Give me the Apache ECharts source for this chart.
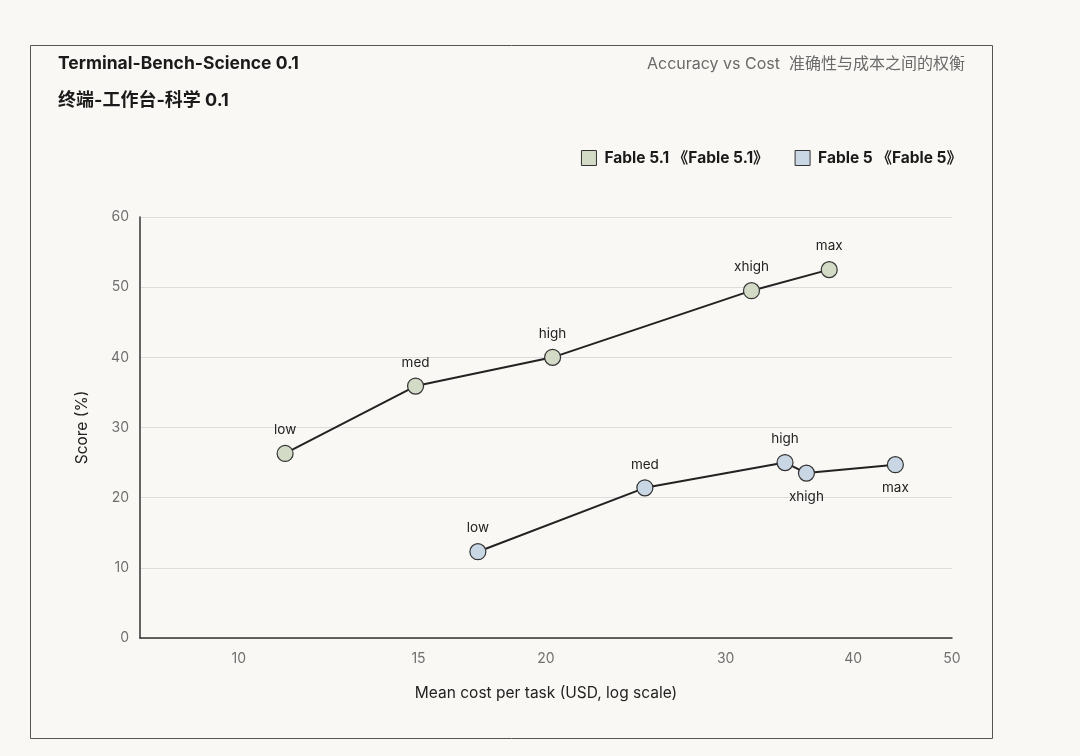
<!DOCTYPE html>
<html>
<head>
<meta charset="utf-8">
<script src="https://cdn.jsdelivr.net/npm/echarts@6/dist/echarts.min.js"></script>
<style>
  html, body { margin: 0; padding: 0; background: #f9f8f5; }
  #chart { width: 1080px; height: 756px; }
</style>
</head>
<body>
<div id="chart"></div>
<script>
var levels = ['low', 'med', 'high', 'xhigh', 'max'];

var fable51Cost = [11.1, 14.9, 20.3, 31.8, 37.9];
var fable51Score = [26.3, 35.9, 40.0, 49.5, 52.5];

var fable5Cost = [17.15, 25.0, 34.3, 36.0, 44.0];
var fable5Score = [12.3, 21.4, 25.0, 23.5, 24.7];
var fable5LabelPos = ['top', 'top', 'top', 'bottom', 'bottom'];

var xTicks = [10, 15, 20, 30, 40, 50];

var font = 'Inter, "Noto Sans CJK SC", sans-serif';

var buildData = function (costs, scores, positions) {
    var res = [];
    for (var i = 0; i < costs.length; i++) {
        var item = { name: levels[i], value: [costs[i], scores[i]] };
        if (positions) item.label = { position: positions[i] };
        res.push(item);
    }
    return res;
};

var chart = echarts.init(document.getElementById('chart'));

var seriesStyle = function (name, color, data) {
    return {
        name: name,
        type: 'line',
        data: data,
        symbol: 'circle',
        symbolSize: 16,
        lineStyle: { color: '#222222', width: 2 },
        itemStyle: { color: color, borderColor: '#333333', borderWidth: 1.2 },
        label: {
            show: true,
            position: 'top',
            distance: 8,
            formatter: '{b}',
            color: '#222222',
            fontSize: 13.5,
            fontFamily: font
        },
        emphasis: { disabled: true },
        z: 3
    };
};

var option = {
    backgroundColor: '#f9f8f5',
    animation: false,
    graphic: [{
        type: 'rect',
        shape: { x: 30.5, y: 45.5, width: 962, height: 693 },
        style: { fill: 'transparent', stroke: '#555555', lineWidth: 1 },
        silent: true
    }],
    title: [{
        text: 'Terminal-Bench-Science 0.1',
        left: 58,
        top: 55,
        padding: 0,
        textStyle: { fontSize: 17.5, fontWeight: 'bold', color: '#1a1a1a', fontFamily: font }
    }, {
        text: '终端-工作台-科学 0.1',
        left: 58,
        top: 92,
        padding: 0,
        textStyle: { fontSize: 18, fontWeight: 'bold', color: '#1a1a1a', fontFamily: font }
    }, {
        text: 'Accuracy vs Cost  准确性与成本之间的权衡',
        right: 115,
        top: 56,
        padding: 0,
        textStyle: { fontSize: 16, fontWeight: 'normal', color: '#6a6a6a', fontFamily: font }
    }],
    legend: {
        right: 118,
        top: 150,
        padding: 0,
        itemWidth: 15,
        itemHeight: 15,
        itemGap: 26,
        icon: 'rect',
        data: [{
            name: 'Fable 5.1 《Fable 5.1》',
            itemStyle: { color: '#d3dbc6', borderColor: '#333333', borderWidth: 1 }
        }, {
            name: 'Fable 5 《Fable 5》',
            itemStyle: { color: '#c9d6e4', borderColor: '#333333', borderWidth: 1 }
        }],
        textStyle: { fontSize: 15.5, fontWeight: 'bold', color: '#1a1a1a', fontFamily: font, padding: [0, 0, 0, 3] }
    },
    grid: { left: 140, right: 128, top: 217, bottom: 118 },
    xAxis: {
        type: 'log',
        min: 8,
        max: 50,
        name: 'Mean cost per task (USD, log scale)',
        nameLocation: 'middle',
        nameGap: 48,
        nameTextStyle: { fontSize: 15.5, color: '#222222', fontFamily: font },
        axisLine: { lineStyle: { color: '#333333', width: 1.5 } },
        axisTick: { show: false },
        splitLine: { show: false },
        axisLabel: {
            customValues: xTicks,
            color: '#707070',
            fontSize: 14,
            margin: 14,
            fontFamily: font
        }
    },
    yAxis: {
        type: 'value',
        min: 0,
        max: 60,
        interval: 10,
        name: 'Score (%)',
        nameLocation: 'middle',
        nameGap: 50,
        nameTextStyle: { fontSize: 15.5, color: '#222222', fontFamily: font },
        axisLine: { show: true, lineStyle: { color: '#333333', width: 1.5 } },
        axisTick: { show: false },
        splitLine: { lineStyle: { color: '#dcdcdc', width: 1 } },
        axisLabel: { color: '#707070', fontSize: 14, margin: 11, fontFamily: font }
    },
    series: [
        seriesStyle('Fable 5.1 《Fable 5.1》', '#d3dbc6', buildData(fable51Cost, fable51Score)),
        seriesStyle('Fable 5 《Fable 5》', '#c9d6e4', buildData(fable5Cost, fable5Score, fable5LabelPos))
    ]
};

chart.setOption(option);
</script>
</body>
</html>
